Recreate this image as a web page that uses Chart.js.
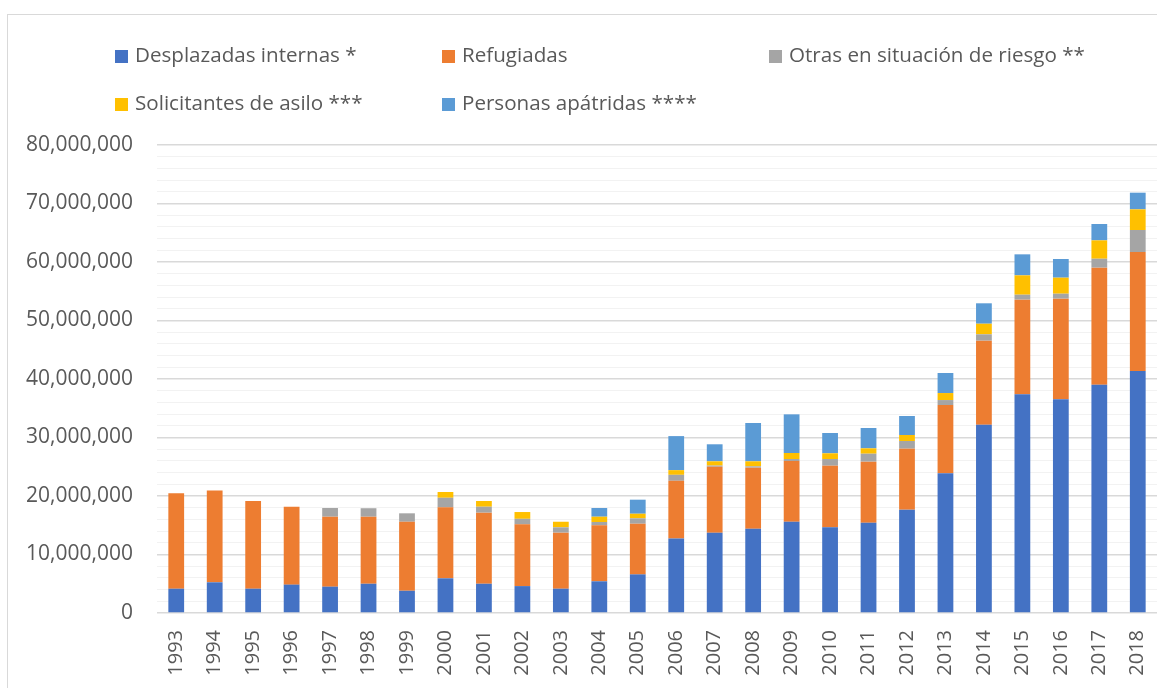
<!DOCTYPE html>
<html>
<head>
<meta charset="utf-8">
<script src="https://cdn.jsdelivr.net/npm/chart.js@4/dist/chart.umd.min.js"></script>
<style>
  html, body { margin: 0; padding: 0; background: #fff; overflow: hidden; }
  #wrap { position: relative; width: 1157px; height: 688px; }
  #frame { position: absolute; left: 7px; top: 14px; width: 1300px; height: 800px;
           border-left: 1px solid #d9d9d9; border-top: 1px solid #d9d9d9; }
  canvas { position: absolute; left: 0; top: 0; }
  .lg { position: absolute; font-family: "Open Sans", sans-serif; font-size: 20.6px; color: #595959;
        white-space: nowrap; line-height: 24px; }
  .lg i { display: inline-block; width: 13px; height: 13px; margin-right: 7px; vertical-align: -1px; }
</style>
</head>
<body>
<div id="wrap">
  <div id="frame"></div>
  <canvas id="c" width="1157" height="688"></canvas>
  <div id="legend"></div>
</div>
<script>
const years = ['1993','1994','1995','1996','1997','1998','1999','2000','2001','2002','2003','2004','2005','2006','2007','2008','2009','2010','2011','2012','2013','2014','2015','2016','2017','2018'];
const desplazadas = [4150000,5250000,4150000,4850000,4500000,5000000,3800000,5930000,5000000,4600000,4150000,5420000,6600000,12750000,13700000,14410000,15600000,14650000,15440000,17660000,23880000,32190000,37380000,36530000,39030000,41370000];
const refugiadas = [16300000,15700000,15000000,13300000,11960000,11460000,11800000,12140000,12150000,10560000,9580000,9570000,8660000,9850000,11300000,10430000,10380000,10530000,10430000,10430000,11670000,14360000,16180000,17200000,20000000,20340000];
const otras = [null,null,null,null,1490000,1450000,1440000,1630000,1020000,940000,920000,570000,920000,1020000,200000,230000,340000,1140000,1360000,1310000,850000,1090000,850000,850000,1530000,3760000];
const asilo = [null,null,null,null,null,null,null,980000,980000,1160000,950000,900000,790000,800000,730000,860000,1030000,980000,920000,1030000,1200000,1810000,3310000,2740000,3140000,3530000];
const apatridas = [null,null,null,null,null,null,null,null,null,null,null,1490000,2400000,5820000,2910000,6550000,6610000,3470000,3470000,3250000,3430000,3490000,3590000,3190000,2800000,2850000];
const seriesNames = ['Desplazadas internas *','Refugiadas','Otras en situación de riesgo **','Solicitantes de asilo ***','Personas apátridas ****'];
const yTicksMajor = [0,10000000,20000000,30000000,40000000,50000000,60000000,70000000,80000000];

const colors = ['#4472C4','#ED7D31','#A5A5A5','#FFC000','#5B9BD5'];
const seriesData = [desplazadas, refugiadas, otras, asilo, apatridas];

const datasets = seriesData.map((d, i) => ({
  label: seriesNames[i],
  data: d,
  backgroundColor: colors[i],
  borderWidth: 0,
  barPercentage: 0.41,
  categoryPercentage: 1.0
}));

const fmt = v => Math.round(v).toLocaleString('en-US');

const chart = new Chart(document.getElementById('c'), {
  type: 'bar',
  data: { labels: years, datasets },
  options: {
    responsive: false,
    animation: false,
    layout: { padding: { top: 145, right: 0, left: 0, bottom: 0 } },
    plugins: { legend: { display: false }, tooltip: { enabled: false } },
    scales: {
      x: {
        stacked: true,
        grid: { display: false, drawTicks: false },
        border: { display: false },
        ticks: {
          maxRotation: 90, minRotation: 90, autoSkip: false, padding: 17,
          color: '#595959', font: { family: 'Open Sans', size: 20 }
        },
        afterFit: s => { s.height = 75; s.paddingLeft = 0; s.paddingRight = 0; }
      },
      y: {
        stacked: true,
        min: 0, max: 80000000,
        grid: {
          drawTicks: false,
          color: c => yTicksMajor.includes(c.tick.value) ? '#d9d9d9' : '#f2f2f2',
          lineWidth: c => yTicksMajor.includes(c.tick.value) ? 1.5 : 1
        },
        border: { display: false },
        ticks: {
          stepSize: 2000000, autoSkip: false, padding: 24,
          color: '#595959', font: { family: 'Open Sans', size: 21 },
          callback: v => yTicksMajor.includes(v) ? fmt(v) : ''
        },
        afterFit: s => { s.width = 157; s.paddingTop = 0; s.paddingBottom = 0; }
      }
    }
  }
});

// HTML legend built from the chart datasets
const legendPos = [[115,42],[442,42],[769,42],[115,90],[442,90]];
const lg = document.getElementById('legend');
chart.data.datasets.forEach((ds, i) => {
  const d = document.createElement('div');
  d.className = 'lg';
  d.style.left = legendPos[i][0] + 'px';
  d.style.top = legendPos[i][1] + 'px';
  const sw = document.createElement('i');
  sw.style.background = ds.backgroundColor;
  d.appendChild(sw);
  d.appendChild(document.createTextNode(ds.label));
  lg.appendChild(d);
});
</script>
</body>
</html>
